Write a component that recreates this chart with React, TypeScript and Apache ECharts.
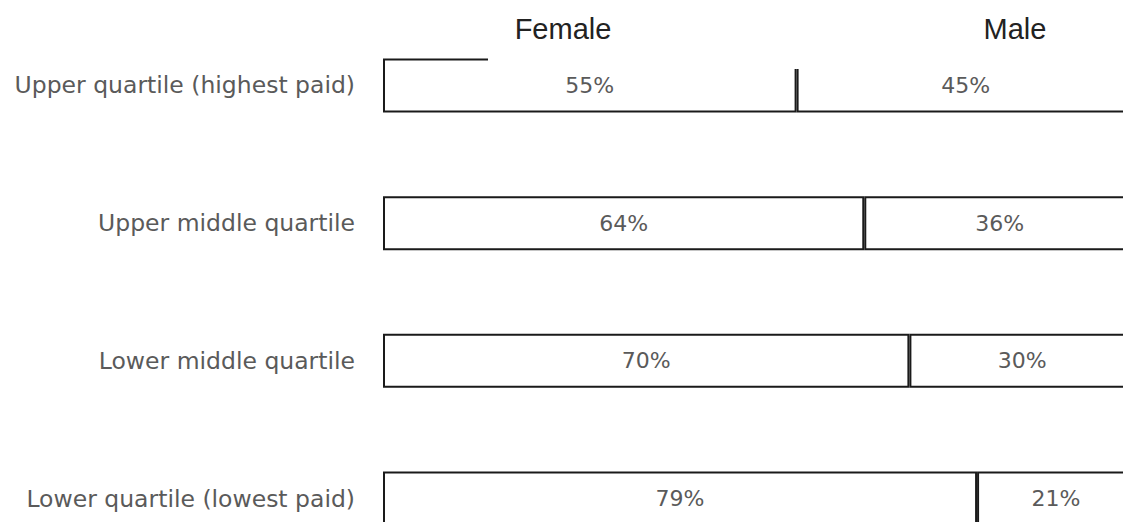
import React, { useEffect, useRef } from "react";
import * as echarts from "echarts";

const categories = [
  "Upper quartile (highest paid)",
  "Upper middle quartile",
  "Lower middle quartile",
  "Lower quartile (lowest paid)",
];
const femaleValues = [55, 64, 70, 79];
const maleValues = [45, 36, 30, 21];
const headerLabels = ["Female", "Male"];

export default function App() {
  const ref = useRef<HTMLDivElement>(null);
  useEffect(() => {
    document.body.style.margin = "0";
    const chart = echarts.init(ref.current!, null, { renderer: "svg" });
    const labelFont = "'DejaVu Sans', sans-serif";
    const barStyle = { color: "#ffffff", borderColor: "#1a1a1a", borderWidth: 2 };
    const segLabel = {
      show: true,
      position: "inside",
      formatter: "{c}%",
      color: "#5a5a5a",
      fontSize: 22,
      fontFamily: labelFont,
    };
    chart.setOption({
      animation: false,
      backgroundColor: "#ffffff",
      grid: { left: 383, right: 5, top: 16.6, bottom: 2.6, containLabel: false },
      xAxis: { type: "value", min: 0, max: 100, show: false },
      yAxis: {
        type: "category",
        inverse: true,
        data: categories,
        axisLine: { show: false },
        axisTick: { show: false },
        axisLabel: {
          margin: 28,
          color: "#5a5a5a",
          fontSize: 23.5,
          fontFamily: labelFont,
        },
      },
      series: [
        {
          name: headerLabels[0],
          type: "bar",
          stack: "total",
          barWidth: 54,
          data: femaleValues,
          itemStyle: barStyle,
          label: segLabel,
        },
        {
          name: headerLabels[1],
          type: "bar",
          stack: "total",
          barWidth: 54,
          data: maleValues,
          itemStyle: barStyle,
          label: segLabel,
        },
      ],
      graphic: [
        {
          type: "rect",
          z: 100,
          shape: { x: 488, y: 0, width: 700, height: 69 },
          style: { fill: "#ffffff" },
        },
        {
          type: "text",
          z: 101,
          x: 563,
          y: 29,
          style: {
            text: headerLabels[0],
            fill: "#222222",
            fontSize: 29,
            fontFamily: "'Liberation Sans', Arial, sans-serif",
            align: "center",
            verticalAlign: "middle",
          },
        },
        {
          type: "text",
          z: 101,
          x: 1015,
          y: 29,
          style: {
            text: headerLabels[1],
            fill: "#222222",
            fontSize: 29,
            fontFamily: "'Liberation Sans', Arial, sans-serif",
            align: "center",
            verticalAlign: "middle",
          },
        },
      ],
    });
    return () => chart.dispose();
  }, []);
  return (
    <div style={{ width: 1123, height: 522, overflow: "hidden", position: "relative" }}>
      <div ref={ref} style={{ width: 1140, height: 570 }} />
    </div>
  );
}
